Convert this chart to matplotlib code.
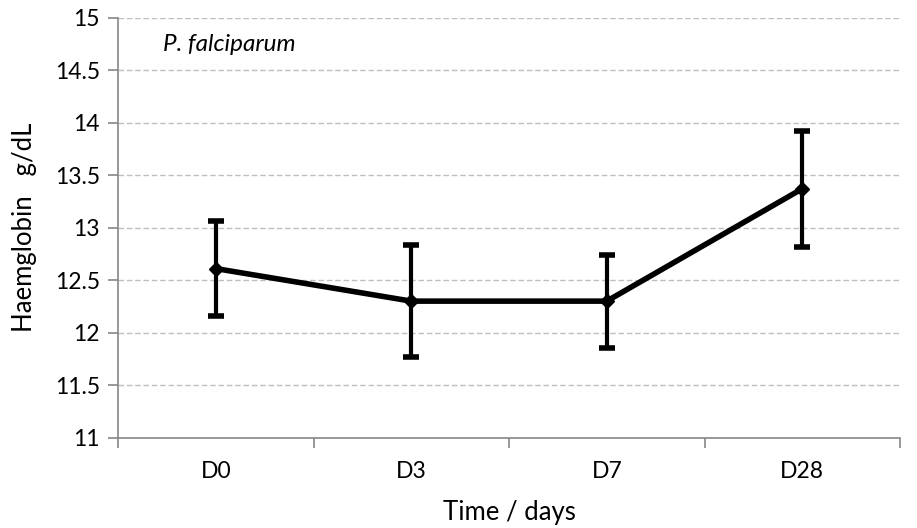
import matplotlib.pyplot as plt
from matplotlib.ticker import MultipleLocator, FixedLocator

plt.rcParams['font.family'] = ['Lato', 'DejaVu Sans']

days = ["D0", "D3", "D7", "D28"]
hb_mean = [12.61, 12.30, 12.30, 13.37]
hb_upper = [13.06, 12.83, 12.74, 13.92]
hb_lower = [12.16, 11.77, 11.85, 12.82]

x = list(range(len(days)))
err_low = [m - lo for m, lo in zip(hb_mean, hb_lower)]
err_high = [hi - m for m, hi in zip(hb_mean, hb_upper)]

fig = plt.figure(figsize=(9.17, 5.28), dpi=100)
ax = fig.add_axes([118 / 917, (528 - 437.7) / 528, (900 - 118) / 917, (437.7 - 17.5) / 528])

ax.errorbar(x, hb_mean, yerr=[err_low, err_high], color="black", lw=4,
            elinewidth=3, capsize=6, capthick=4, marker="D", markersize=7,
            zorder=3)

ax.set_xlim(-0.5, 3.5)
ax.set_ylim(11, 15)
ax.yaxis.set_major_locator(MultipleLocator(0.5))
ax.set_yticklabels([f"{v:g}" for v in ax.get_yticks()])
ax.set_xticks(x)
ax.set_xticklabels(days)
ax.xaxis.set_minor_locator(FixedLocator([-0.5, 0.5, 1.5, 2.5, 3.5]))

ax.grid(axis="y", color="#BFBFBF", linestyle=(0, (4, 2)), lw=1)
ax.set_axisbelow(True)

for s in ["top", "right"]:
    ax.spines[s].set_visible(False)
for s in ["left", "bottom"]:
    ax.spines[s].set_color("#868686")
    ax.spines[s].set_linewidth(1.2)

ax.tick_params(axis="x", which="major", length=0, labelsize=16.5, pad=17)
ax.tick_params(axis="x", which="minor", length=7, color="#868686", width=1.2)
ax.tick_params(axis="y", length=7, color="#868686", width=1.2, labelsize=16.5, pad=6)

ax.set_xlabel("Time / days", fontsize=18.5, labelpad=13)
ax.set_ylabel("Haemglobin   g/dL", fontsize=18.5, labelpad=13)

ax.text(0.058, 0.935, "P. falciparum", transform=ax.transAxes, style="italic",
        fontsize=17.5, va="center", ha="left")

fig.savefig("out.png", dpi=100)
